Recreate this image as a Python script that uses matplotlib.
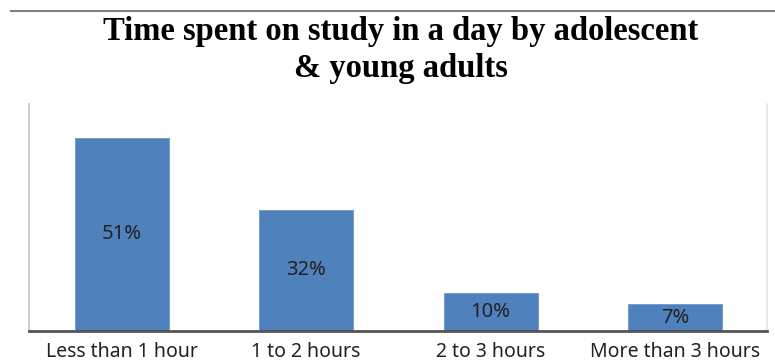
import matplotlib.pyplot as plt
from matplotlib.lines import Line2D

# data
categories = ["Less than 1 hour", "1 to 2 hours", "2 to 3 hours", "More than 3 hours"]
percent = [51, 32, 10, 7]
bar_labels = ["51%", "32%", "10%", "7%"]

fig = plt.figure(figsize=(7.75, 3.64), dpi=100)
ax = fig.add_axes([0.038, 0.091, 0.952, 0.623])

x = range(len(categories))
ax.bar(x, percent, width=0.51, color="#4F81BD", edgecolor="#6C97CC", linewidth=0.6)

for i, (v, lab) in enumerate(zip(percent, bar_labels)):
    ax.text(i, v / 2, lab, ha="center", va="center", fontsize=14.5,
            family="Noto Sans", color="#222222")

ax.set_xlim(-0.5, 3.5)
ax.set_ylim(0, 60)
ax.set_yticks([])
ax.set_xticks(list(x))
ax.set_xticklabels(categories, fontsize=14, family="Noto Sans", color="#222222")
ax.tick_params(axis="x", length=0, pad=8)

ax.spines["top"].set_visible(False)
ax.spines["left"].set_color("#D0D0D0")
ax.spines["left"].set_linewidth(1.5)
ax.spines["right"].set_color("#E4E4E4")
ax.spines["right"].set_linewidth(1.2)
ax.spines["bottom"].set_color("#555555")
ax.spines["bottom"].set_linewidth(2)

# top border line
fig.add_artist(Line2D([0.014, 1.0], [0.97, 0.97], color="#808080", linewidth=1.5))

fig.text(0.517, 0.862, "Time spent on study in a day by adolescent\n& young adults",
         ha="center", va="center", fontsize=23.5, fontweight="bold",
         family="Liberation Serif", linespacing=1.25)

fig.savefig("out.png", dpi=100)
